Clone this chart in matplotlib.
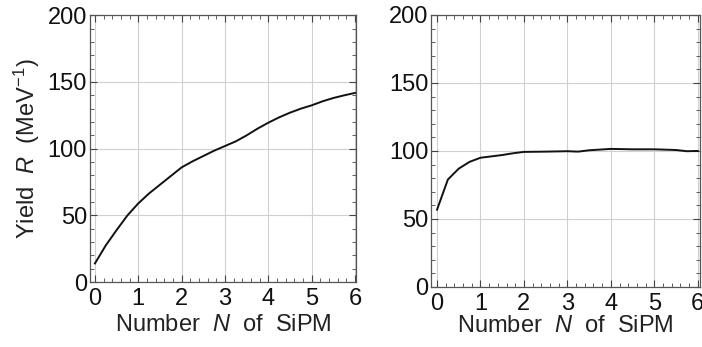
import numpy as np
import matplotlib.pyplot as plt
from matplotlib.ticker import MultipleLocator

plt.rcParams['font.family'] = ['Liberation Sans', 'DejaVu Sans']
plt.rcParams['mathtext.fontset'] = 'custom'
plt.rcParams['mathtext.rm'] = 'Liberation Sans'
plt.rcParams['mathtext.it'] = 'Liberation Sans:italic'

# left panel
n_left = [0, 0.25, 0.5, 0.75, 1, 1.25, 1.5, 1.75, 2, 2.25, 2.5, 2.75, 3, 3.25, 3.5,
          3.75, 4, 4.25, 4.5, 4.75, 5, 5.25, 5.5, 5.75, 6]
yield_left = [14, 27.5, 39, 50, 59, 66.5, 73, 79.5, 86, 90.5, 94.5, 98.5, 102, 105.5, 110,
              115, 119.5, 123.5, 127, 130, 132.5, 135.5, 138, 140, 141.8]

# right panel
n_right = [0, 0.25, 0.5, 0.75, 1, 1.25, 1.5, 1.75, 2, 2.5, 3, 3.25, 3.5, 4, 4.5, 5, 5.5, 5.75, 6]
yield_right = [56.8, 79, 87, 92, 95, 96, 97, 98.3, 99.3, 99.5, 99.8, 99.5, 100.5, 101.5,
               101.2, 101.2, 100.7, 99.8, 100]

fig = plt.figure(figsize=(7.02, 3.47), dpi=100)
ax1 = fig.add_axes([0.128, 0.187, 0.379, 0.769])
ax2 = fig.add_axes([0.614, 0.173, 0.383, 0.784])


def style(ax, xlim, lpad):
    ax.set_xlim(*xlim)
    ax.set_ylim(0, 200)
    ax.xaxis.set_major_locator(MultipleLocator(1))
    ax.xaxis.set_minor_locator(MultipleLocator(0.2))
    ax.yaxis.set_major_locator(MultipleLocator(50))
    ax.yaxis.set_minor_locator(MultipleLocator(10))
    ax.grid(True, which='major', color='#d0d0d0', lw=0.8)
    ax.set_axisbelow(True)
    ax.tick_params(which='both', direction='in', top=True, right=True,
                   color='#444444', labelsize=17, labelcolor='#111111')
    ax.tick_params(axis='x', pad=4)
    ax.tick_params(axis='y', pad=2)
    ax.tick_params(which='major', length=5, width=0.8)
    ax.tick_params(which='minor', length=3, width=0.6)
    for s in ax.spines.values():
        s.set_color('#555555')
        s.set_linewidth(0.9)
    ax.set_xlabel(r'Number  $\mathit{N}$  of  SiPM', fontsize=17, color='#222222', labelpad=lpad)


ax1.plot(n_left, yield_left, color='#111111', lw=1.4)
style(ax1, (-0.117, 6.02), 3)
ax1.set_ylabel(r'Yield  $\mathit{R}$  (MeV$^{-1}$)', fontsize=17, color='#222222', labelpad=4)

ax2.plot(n_right, yield_right, color='#111111', lw=1.4)
style(ax2, (-0.138, 6.05), 0.5)

fig.savefig('out.png', dpi=100)
